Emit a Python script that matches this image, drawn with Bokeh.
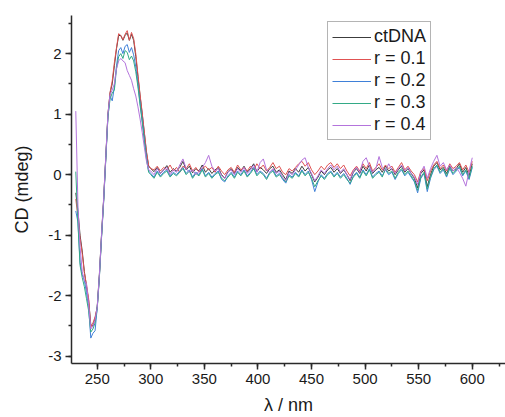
from bokeh.plotting import figure
from bokeh.models import (Range1d, SingleIntervalTicker, Legend, LegendItem,
                          CustomJSTickFormatter)
from bokeh.embed import file_html
from bokeh.resources import INLINE

# CD spectra of ctDNA alone and with increasing complex ratio r

# Wavelengths (nm): denser through the 245/275 nm bands, coarser over the flat baseline
band_nm = [230, 232, 234, 236, 238, 240, 242, 244, 246, 248,
           250, 252, 254, 256, 258, 260, 262, 264, 266, 268,
           270, 272, 274, 276, 278, 280, 282, 284, 286, 288,
           290, 292, 294, 296, 298]
base_nm = [300, 303, 306, 309, 312, 315, 318, 321, 324, 327,
           330, 333, 336, 339, 342, 345, 348, 351, 354, 357,
           360, 363, 366, 369, 372, 375, 378, 381, 384, 387,
           390, 393, 396, 399, 402, 405, 408, 411, 414, 417,
           420, 423, 426, 429, 432, 435, 438, 441, 444, 447,
           450, 453, 456, 459, 462, 465, 468, 471, 474, 477,
           480, 483, 486, 489, 492, 495, 498, 501, 504, 507,
           510, 513, 516, 519, 522, 525, 528, 531, 534, 537,
           540, 543, 546, 549, 552, 555, 558, 561, 564, 567,
           570, 573, 576, 579, 582, 585, 588, 591, 594, 597,
           600]

# CD signal (mdeg), band region
ctdna_band = [-0.30, -0.60, -1.00, -1.26, -1.60, -1.85, -2.08, -2.48, -2.50, -2.38,
              -2.18, -1.65, -1.00, -0.40, 0.30, 1.00, 1.35, 1.50, 1.80, 2.08,
              2.30, 2.30, 2.22, 2.30, 2.34, 2.22, 2.32, 2.22, 1.95, 1.62,
              1.30, 1.00, 0.68, 0.36, 0.14]
r01_band = [-0.40, -0.70, -1.05, -1.30, -1.62, -1.82, -2.05, -2.52, -2.45, -2.35,
            -2.20, -1.68, -1.02, -0.42, 0.28, 0.98, 1.36, 1.55, 1.85, 2.10,
            2.33, 2.30, 2.23, 2.32, 2.38, 2.22, 2.35, 2.25, 2.00, 1.65,
            1.32, 1.02, 0.70, 0.38, 0.15]
r02_band = [-0.60, -0.78, -1.45, -1.65, -1.75, -1.95, -2.20, -2.70, -2.62, -2.58,
            -2.20, -1.70, -1.05, -0.45, 0.25, 0.95, 1.30, 1.22, 1.45, 1.80,
            2.05, 2.10, 2.00, 2.12, 2.15, 2.02, 2.10, 1.98, 1.78, 1.50,
            1.18, 0.90, 0.58, 0.28, 0.06]
r03_band = [0.05, -0.80, -1.50, -1.70, -1.85, -2.05, -2.25, -2.60, -2.55, -2.45,
            -2.22, -1.70, -1.04, -0.44, 0.26, 0.96, 1.25, 1.35, 1.40, 1.75,
            1.95, 2.00, 1.92, 2.05, 2.02, 1.90, 1.96, 1.88, 1.70, 1.45,
            1.15, 0.86, 0.55, 0.25, 0.04]
r04_band = [1.05, -0.50, -1.20, -1.60, -1.75, -1.80, -2.15, -2.55, -2.50, -2.40,
            -2.20, -1.66, -1.00, -0.40, 0.30, 1.00, 1.32, 1.40, 1.50, 1.75,
            1.88, 1.92, 1.88, 1.85, 1.72, 1.64, 1.56, 1.42, 1.30, 1.12,
            0.92, 0.70, 0.45, 0.22, 0.08]

# CD signal (mdeg), baseline region 300-600 nm
ctdna_base = [0.10, 0.05, 0.12, 0.02, 0.08, 0.15, 0.04, 0.10, 0.06, 0.12,
              0.22, 0.08, 0.14, 0.03, 0.10, 0.06, 0.16, 0.04, 0.10, 0.02,
              0.08, 0.12, 0.00, -0.06, 0.05, 0.10, 0.02, 0.12, 0.06, 0.14,
              0.04, 0.10, 0.18, 0.05, 0.12, 0.08, 0.02, 0.10, 0.14, 0.04,
              0.08, 0.00, -0.08, 0.06, 0.02, 0.10, 0.04, 0.14, 0.06, 0.12,
              0.00, -0.12, -0.04, 0.06, 0.00, 0.08, 0.12, 0.04, 0.10, 0.02,
              0.08, 0.00, -0.10, 0.04, 0.10, 0.02, 0.14, 0.06, 0.16, 0.02,
              0.08, 0.12, 0.04, 0.14, 0.06, 0.10, 0.00, 0.08, 0.14, 0.04,
              0.10, 0.02, -0.06, -0.22, 0.02, 0.08, -0.20, 0.00, 0.14, 0.20,
              0.08, 0.12, 0.02, 0.14, 0.06, 0.10, 0.18, 0.04, 0.12, -0.02,
              0.18]
r01_base = [0.10, 0.08, 0.14, 0.06, 0.12, 0.08, 0.16, 0.06, 0.12, 0.04,
            0.14, 0.10, 0.18, 0.06, 0.12, 0.04, 0.10, 0.14, 0.08, 0.12,
            0.04, 0.14, 0.06, 0.00, 0.08, 0.12, 0.04, 0.16, 0.08, 0.12,
            0.06, 0.14, 0.08, 0.18, 0.10, 0.16, 0.06, 0.12, 0.20, 0.10,
            0.14, 0.04, 0.00, 0.10, 0.06, 0.12, 0.18, 0.22, 0.14, 0.20,
            0.08, 0.00, 0.06, 0.14, 0.08, 0.16, 0.20, 0.12, 0.18, 0.10,
            0.16, 0.06, -0.02, 0.08, 0.14, 0.06, 0.18, 0.10, 0.20, 0.06,
            0.12, 0.18, 0.08, 0.16, 0.10, 0.14, 0.04, 0.12, 0.20, 0.08,
            0.14, 0.06, 0.00, -0.12, 0.06, 0.10, -0.10, 0.06, 0.16, 0.22,
            0.10, 0.16, 0.06, 0.18, 0.10, 0.14, 0.20, 0.08, 0.16, 0.04,
            0.22]
r02_base = [0.02, -0.04, 0.06, -0.02, 0.04, 0.08, -0.02, 0.04, 0.00, 0.06,
            0.12, 0.02, 0.08, -0.04, 0.04, 0.00, 0.10, -0.02, 0.04, -0.04,
            0.02, 0.06, -0.08, -0.12, -0.02, 0.04, -0.04, 0.06, 0.00, 0.08,
            -0.02, 0.04, 0.12, 0.00, 0.06, 0.02, -0.06, 0.04, 0.08, -0.02,
            0.02, -0.08, -0.14, 0.00, -0.04, 0.04, -0.02, 0.08, 0.00, 0.06,
            -0.08, -0.28, -0.12, 0.00, -0.06, 0.02, 0.06, -0.02, 0.04, -0.04,
            0.02, -0.06, -0.16, -0.02, 0.04, -0.04, 0.08, 0.00, 0.10, -0.04,
            0.02, 0.06, -0.02, 0.08, 0.00, 0.04, -0.08, 0.02, 0.08, -0.02,
            0.04, -0.04, -0.12, -0.30, -0.06, 0.02, -0.28, -0.06, 0.08, 0.14,
            0.02, 0.08, -0.04, 0.10, 0.00, 0.06, 0.12, -0.02, 0.06, -0.08,
            0.12]
r03_base = [0.00, -0.06, 0.04, -0.04, 0.02, 0.06, -0.04, 0.02, -0.02, 0.04,
            0.10, 0.00, 0.06, -0.06, 0.02, -0.02, 0.08, -0.04, 0.02, -0.06,
            0.00, 0.04, -0.06, -0.10, -0.04, 0.02, -0.06, 0.04, -0.02, 0.06,
            -0.04, 0.02, 0.10, -0.02, 0.04, 0.00, -0.08, 0.02, 0.06, -0.04,
            0.00, -0.06, -0.12, -0.02, -0.06, 0.02, -0.04, 0.06, -0.02, 0.04,
            -0.06, -0.20, -0.10, -0.02, -0.08, 0.00, 0.04, -0.04, 0.02, -0.06,
            0.00, -0.08, -0.14, -0.04, 0.02, -0.06, 0.06, -0.02, 0.08, -0.06,
            0.00, 0.04, -0.04, 0.10, 0.02, 0.06, -0.06, 0.04, 0.10, 0.00,
            0.06, -0.02, -0.10, -0.26, -0.04, 0.04, -0.24, -0.04, 0.10, 0.16,
            0.04, 0.10, -0.02, 0.12, 0.02, 0.08, 0.14, 0.00, 0.08, -0.06,
            0.14]
r04_base = [0.06, 0.00, 0.10, 0.02, 0.08, 0.12, 0.00, 0.08, 0.04, 0.16,
            0.26, 0.10, 0.04, 0.08, 0.00, 0.06, 0.12, 0.20, 0.32, 0.14,
            0.06, 0.10, -0.02, -0.06, 0.04, 0.08, 0.00, 0.10, 0.04, 0.12,
            0.02, 0.08, 0.16, 0.04, 0.20, 0.26, 0.08, 0.04, 0.10, 0.02,
            0.06, -0.04, -0.10, 0.04, 0.00, 0.08, 0.16, 0.24, 0.28, 0.12,
            0.02, -0.10, -0.02, 0.08, 0.02, 0.10, 0.16, 0.08, 0.14, 0.04,
            0.10, 0.00, -0.08, 0.06, 0.12, 0.04, 0.22, 0.28, 0.14, 0.04,
            0.10, 0.30, 0.12, 0.06, 0.18, 0.08, 0.02, 0.10, 0.16, 0.06,
            0.12, 0.02, -0.04, -0.16, 0.04, 0.14, -0.06, 0.10, 0.22, 0.32,
            0.14, 0.20, 0.08, 0.16, 0.06, 0.12, 0.04, -0.06, -0.19, 0.06,
            0.28]

series_labels = ["ctDNA", "r = 0.1", "r = 0.2", "r = 0.3", "r = 0.4"]
series_colors = ["#3c3c3c", "#e05252", "#3f80d8", "#33aa86", "#b474dc"]
x_title = "λ / nm"
y_title = "CD (mdeg)"

wavelength = band_nm + base_nm
series = [ctdna_band + ctdna_base,
          r01_band + r01_base,
          r02_band + r02_base,
          r03_band + r03_base,
          r04_band + r04_base]

FONT = "Liberation Sans"
INK = "#1a1a1a"

p = figure(width=505, height=417, output_backend="svg", toolbar_location=None,
           x_range=Range1d(226, 631), y_range=Range1d(-3.12, 2.63),
           min_border_left=71, min_border_right=0, min_border_top=15,
           min_border_bottom=54)
p.outline_line_color = None
p.grid.visible = False
p.background_fill_color = "white"
p.border_fill_color = "white"

items = []
for label, ys, col in zip(series_labels, series, series_colors):
    r = p.line(wavelength, ys, line_color=col, line_width=1)
    items.append(LegendItem(label=label, renderers=[r]))

p.xaxis.ticker = SingleIntervalTicker(interval=50, num_minor_ticks=2)
p.yaxis.ticker = SingleIntervalTicker(interval=1, num_minor_ticks=2)
# plain ASCII hyphen for negative tick values
p.yaxis.formatter = CustomJSTickFormatter(code="return String(Math.round(tick));")
p.xaxis.axis_label = x_title
p.yaxis.axis_label = y_title

for ax in (p.xaxis[0], p.yaxis[0]):
    ax.axis_line_color = "#2a2a2a"
    ax.axis_line_width = 1.5
    ax.major_tick_line_color = "#2a2a2a"
    ax.minor_tick_line_color = "#2a2a2a"
    ax.major_tick_line_width = 1.5
    ax.minor_tick_line_width = 1.5
    ax.major_tick_in = 0
    ax.major_tick_out = 6
    ax.minor_tick_in = 0
    ax.minor_tick_out = 3
    ax.major_label_text_font = FONT
    ax.major_label_text_font_size = "15px"
    ax.major_label_text_color = INK
    ax.major_label_standoff = 4
    ax.axis_label_text_font = FONT
    ax.axis_label_text_font_size = "18px"
    ax.axis_label_text_font_style = "normal"
    ax.axis_label_text_color = INK

p.xaxis.axis_label_standoff = 8
p.yaxis.axis_label_standoff = 13

legend = Legend(items=items, location=(256, 223))
legend.label_text_font = FONT
legend.label_text_font_size = "18px"
legend.label_text_color = INK
legend.glyph_width = 39
legend.glyph_height = 20
legend.label_height = 20
legend.label_standoff = 3
legend.spacing = 1
legend.padding = 4
legend.margin = 0
legend.border_line_color = "#6a6a6a"
legend.border_line_width = 1.2
legend.background_fill_color = "white"
legend.background_fill_alpha = 1.0
p.add_layout(legend)

open("out.html", "w").write(file_html(p, INLINE))
